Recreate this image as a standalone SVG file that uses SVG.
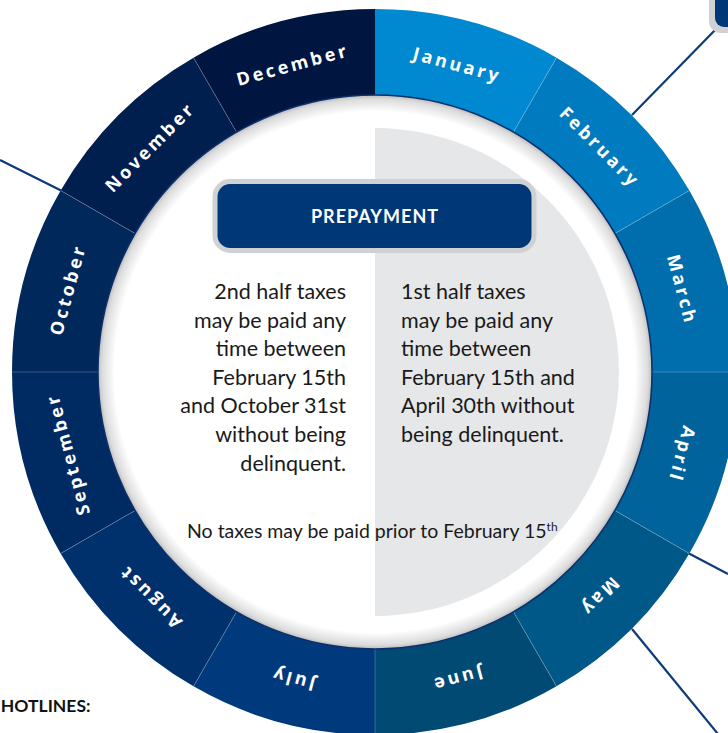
<svg xmlns="http://www.w3.org/2000/svg" width="728" height="733" viewBox="0 0 728 733">
<style>
.seg{stroke:none}
.sep{stroke:#ffffff;stroke-opacity:0.28;stroke-width:0.8}
.mon{font-family:"Open Sans",sans-serif;font-weight:700;font-size:18px;letter-spacing:3px;fill:#ffffff;text-anchor:middle}
.body{font-family:Lato,"Open Sans",sans-serif;font-size:21.5px;fill:#1a1a1a}
.conn{stroke:#0d3a7a;stroke-width:2.2;fill:none}
</style>
<defs>
<radialGradient id="shade" cx="375" cy="372" r="277" gradientUnits="userSpaceOnUse">
<stop offset="0.94" stop-color="#ffffff"/>
<stop offset="0.985" stop-color="#dcdcdc"/>
<stop offset="1" stop-color="#bcbcbc"/>
</radialGradient>
</defs>
<rect width="728" height="733" fill="#ffffff"/>
<g id="connectors">
<line class="conn" x1="0" y1="160" x2="61" y2="190.5"/>
<line class="conn" x1="632" y1="115" x2="718" y2="27"/>
<line class="conn" x1="689" y1="553.5" x2="728" y2="574"/>
<line class="conn" x1="632" y1="629" x2="718" y2="734"/>
</g>
<g id="hotline-box">
<rect x="709" y="-20" width="45" height="53" rx="12" fill="#d0d1d3"/>
<rect x="715" y="-20" width="40" height="47" rx="9" fill="#003877"/>
</g>
<g id="ring">
<g id="jan"><path class="seg" fill="#0088d1" d="M375 9A363 363 0 0 1 556.5 57.64L513.5 132.11A277 277 0 0 0 375 95Z"/><text class="mon" x="375" y="54" dy="0.35em" transform="rotate(15 375 372)">January</text></g>
<g id="feb"><path class="seg" fill="#007bbf" d="M556.5 57.64A363 363 0 0 1 689.36 190.5L614.89 233.5A277 277 0 0 0 513.5 132.11Z"/><text class="mon" x="375" y="54" dy="0.35em" transform="rotate(45 375 372)">February</text></g>
<g id="mar"><path class="seg" fill="#006dac" d="M689.36 190.5A363 363 0 0 1 738 372L652 372A277 277 0 0 0 614.89 233.5Z"/><text class="mon" x="375" y="54" dy="0.35em" transform="rotate(75 375 372)">March</text></g>
<g id="apr"><path class="seg" fill="#00639b" d="M738 372A363 363 0 0 1 689.36 553.5L614.89 510.5A277 277 0 0 0 652 372Z"/><text class="mon" x="375" y="54" dy="0.35em" transform="rotate(105 375 372)">April</text></g>
<g id="may"><path class="seg" fill="#005889" d="M689.36 553.5A363 363 0 0 1 556.5 686.36L513.5 611.89A277 277 0 0 0 614.89 510.5Z"/><text class="mon" x="375" y="54" dy="0.35em" transform="rotate(135 375 372)">May</text></g>
<g id="jun"><path class="seg" fill="#004a74" d="M556.5 686.36A363 363 0 0 1 375 735L375 649A277 277 0 0 0 513.5 611.89Z"/><text class="mon" x="375" y="54" dy="0.35em" transform="rotate(165 375 372)">June</text></g>
<g id="jul"><path class="seg" fill="#003a7c" d="M375 735A363 363 0 0 1 193.5 686.36L236.5 611.89A277 277 0 0 0 375 649Z"/><text class="mon" x="375" y="54" dy="0.35em" transform="rotate(195 375 372)">July</text></g>
<g id="aug"><path class="seg" fill="#00316c" d="M193.5 686.36A363 363 0 0 1 60.64 553.5L135.11 510.5A277 277 0 0 0 236.5 611.89Z"/><text class="mon" x="375" y="54" dy="0.35em" transform="rotate(225 375 372)">August</text></g>
<g id="sep"><path class="seg" fill="#002b62" d="M60.64 553.5A363 363 0 0 1 12 372L98 372A277 277 0 0 0 135.11 510.5Z"/><text class="mon" x="375" y="54" dy="0.35em" transform="rotate(255 375 372)">September</text></g>
<g id="oct"><path class="seg" fill="#00285b" d="M12 372A363 363 0 0 1 60.64 190.5L135.11 233.5A277 277 0 0 0 98 372Z"/><text class="mon" x="375" y="54" dy="0.35em" transform="rotate(285 375 372)">October</text></g>
<g id="nov"><path class="seg" fill="#001e4e" d="M60.64 190.5A363 363 0 0 1 193.5 57.64L236.5 132.11A277 277 0 0 0 135.11 233.5Z"/><text class="mon" x="375" y="54" dy="0.35em" transform="rotate(315 375 372)">November</text></g>
<g id="dec"><path class="seg" fill="#001640" d="M193.5 57.64A363 363 0 0 1 375 9L375 95A277 277 0 0 0 236.5 132.11Z"/><text class="mon" x="375" y="54" dy="0.35em" transform="rotate(345 375 372)">December</text></g>
<g id="separators">
<line class="sep" x1="513.5" y1="132.11" x2="556.5" y2="57.64"/>
<line class="sep" x1="614.89" y1="233.5" x2="689.36" y2="190.5"/>
<line class="sep" x1="652" y1="372" x2="738" y2="372"/>
<line class="sep" x1="614.89" y1="510.5" x2="689.36" y2="553.5"/>
<line class="sep" x1="513.5" y1="611.89" x2="556.5" y2="686.36"/>
<line class="sep" x1="375" y1="649" x2="375" y2="735"/>
<line class="sep" x1="236.5" y1="611.89" x2="193.5" y2="686.36"/>
<line class="sep" x1="135.11" y1="510.5" x2="60.64" y2="553.5"/>
<line class="sep" x1="98" y1="372" x2="12" y2="372"/>
<line class="sep" x1="135.11" y1="233.5" x2="60.64" y2="190.5"/>
<line class="sep" x1="236.5" y1="132.11" x2="193.5" y2="57.64"/>
</g>
</g>
<g id="center">
<circle cx="375" cy="372" r="277" fill="url(#shade)" stroke="#0b2f6a" stroke-width="1.5"/>
<path d="M375 128A244 244 0 0 1 375 616Z" fill="#e6e7e8"/>
</g>
<g id="prepayment">
<rect x="215" y="181.5" width="319" height="69" rx="15" fill="#003877" stroke="#d0d1d3" stroke-width="5"/>
<text x="375" y="223" font-family="Lato,'Open Sans',sans-serif" font-weight="700" font-size="18" letter-spacing="1" fill="#ffffff" text-anchor="middle">PREPAYMENT</text>
</g>
<g id="second-half">
<text class="body" text-anchor="end"><tspan x="346" y="299">2nd half taxes</tspan><tspan x="346" y="328">may be paid any</tspan><tspan x="346" y="356">time between</tspan><tspan x="346" y="385">February 15th</tspan><tspan x="346" y="413">and October 31st</tspan><tspan x="346" y="442">without being</tspan><tspan x="346" y="471">delinquent.</tspan></text>
</g>
<g id="first-half">
<text class="body"><tspan x="401" y="299">1st half taxes</tspan><tspan x="401" y="328">may be paid any</tspan><tspan x="401" y="356">time between</tspan><tspan x="401" y="385">February 15th and</tspan><tspan x="401" y="413">April 30th without</tspan><tspan x="401" y="442">being delinquent.</tspan></text>
</g>
<g id="note">
<text x="187" y="538" font-family="Lato,'Open Sans',sans-serif" font-size="19.5" fill="#1a1a1a">No taxes may be paid prior to February 15<tspan font-size="12" dy="-7">th</tspan></text>
</g>
<g id="hotlines">
<text x="90.5" y="712" font-family="Lato,'Open Sans',sans-serif" font-weight="700" font-size="17.5" fill="#111111" text-anchor="end">HOTLINES:</text>
</g>
</svg>
